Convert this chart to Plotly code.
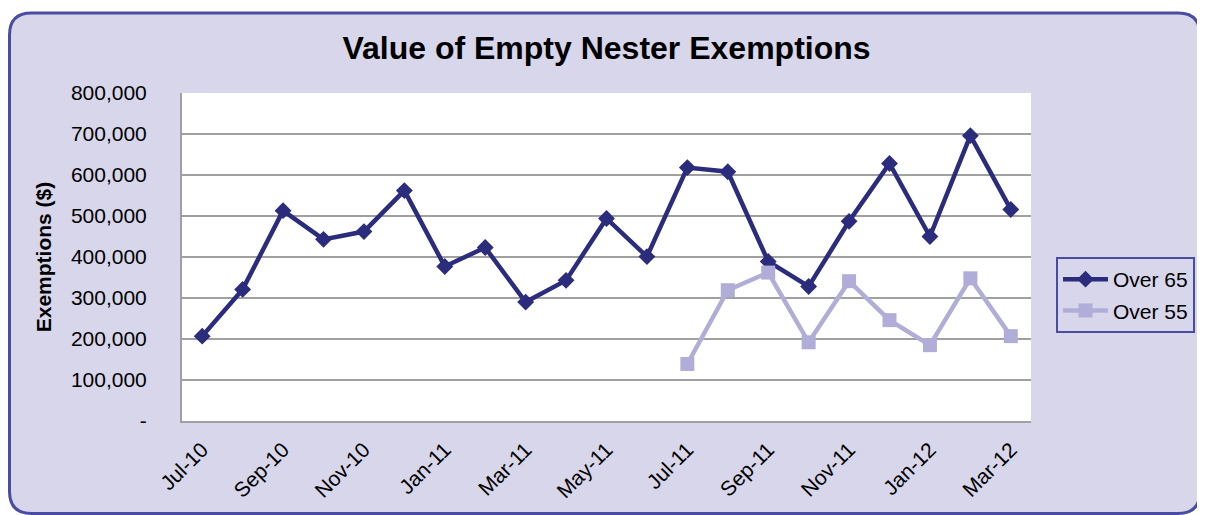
import plotly.graph_objects as go

months = ["Jul-10","Aug-10","Sep-10","Oct-10","Nov-10","Dec-10","Jan-11","Feb-11","Mar-11",
          "Apr-11","May-11","Jun-11","Jul-11","Aug-11","Sep-11","Oct-11","Nov-11","Dec-11",
          "Jan-12","Feb-12","Mar-12"]
over65 = [207000, 321000, 513000, 443000, 462000, 562000, 377000, 423000, 290000, 343000,
          494000, 401000, 618000, 608000, 389000, 328000, 487000, 628000, 450000, 696000, 516000]
over55_months = ["Jul-11","Aug-11","Sep-11","Oct-11","Nov-11","Dec-11","Jan-12","Feb-12","Mar-12"]
over55 = [139000, 319000, 362000, 192000, 341000, 246000, 185000, 348000, 207000]

y_tickvals = [0, 100000, 200000, 300000, 400000, 500000, 600000, 700000, 800000]
y_ticktext = ["-", "100,000", "200,000", "300,000", "400,000", "500,000", "600,000", "700,000", "800,000"]
x_tickvals = months[::2]

# page body has an 8px margin, so the figure is drawn 8px smaller and offset
OFF = 8
W, H = 1205 - OFF, 515 - OFF
L, R, T, B = 182 - OFF, 1031 - OFF, 93 - OFF, 421 - OFF

def px(x):
    return (x - L) / (R - L)

def py(y):
    return (B - y) / (B - T)

FONT = "Liberation Sans, Arial, sans-serif"
NAVY = "#2B2C7C"
LILAC = "#B0AED8"
PANEL = "#D7D6EA"
BORDER = "#4A4CA4"

fig = go.Figure()
fig.add_trace(go.Scatter(
    x=months, y=over65, name="Over 65", mode="lines+markers", legendgroup="a",
    line=dict(color=NAVY, width=4.5),
    marker=dict(symbol="diamond", size=13, color=NAVY),
))
fig.add_trace(go.Scatter(
    x=over55_months, y=over55, name="Over 55", mode="lines+markers", legendgroup="b",
    line=dict(color=LILAC, width=4.5),
    marker=dict(symbol="square", size=14, color=LILAC),
))

# rounded lavender panel (figure pixel coords)
x0, x1, y0, y1, r = 1.5, 1192, 5, 505.5, 22
path = (f"M {px(x0+r)},{py(y0)} L {px(x1-r)},{py(y0)} "
        f"Q {px(x1)},{py(y0)} {px(x1)},{py(y0+r)} "
        f"L {px(x1)},{py(y1-r)} Q {px(x1)},{py(y1)} {px(x1-r)},{py(y1)} "
        f"L {px(x0+r)},{py(y1)} Q {px(x0)},{py(y1)} {px(x0)},{py(y1-r)} "
        f"L {px(x0)},{py(y0+r)} Q {px(x0)},{py(y0)} {px(x0+r)},{py(y0)} Z")
fig.add_shape(type="path", path=path, xref="paper", yref="paper", layer="below",
              fillcolor=PANEL, line=dict(color=BORDER, width=3))
fig.add_shape(type="rect", xref="paper", yref="paper", x0=0, x1=1, y0=0, y1=1,
              layer="below", fillcolor="white", line=dict(width=0))

fig.update_layout(
    width=W, height=H,
    margin=dict(l=L, r=W - R, t=T, b=H - B, autoexpand=False),
    paper_bgcolor="white",
    plot_bgcolor="rgba(0,0,0,0)",
    font=dict(family=FONT, color="black", size=21),
    title=dict(text="<b>Value of Empty Nester Exemptions</b>", x=0.5, xanchor="center",
               y=1 - 40 / H, yanchor="middle",
               font=dict(size=32, family=FONT, color="black")),
    xaxis=dict(
        type="category", categoryarray=months, categoryorder="array",
        tickmode="array", tickvals=x_tickvals, ticktext=x_tickvals,
        tickangle=-45, showgrid=False, showline=True, linecolor="#A0A0A0", linewidth=2,
        ticks="", tickfont=dict(size=21), range=[-0.5, len(months) - 0.5],
        ticklabelstandoff=6, automargin=False,
    ),
    yaxis=dict(
        range=[0, 800000], tickmode="array", tickvals=y_tickvals, ticktext=y_ticktext,
        showgrid=True, gridcolor="#A0A0A0", gridwidth=2,
        showline=True, linecolor="#A0A0A0", linewidth=2,
        zeroline=False, ticks="", ticklabelstandoff=29, tickfont=dict(size=21),
        title=dict(text="<b>Exemptions ($)</b>", font=dict(size=21), standoff=14),
        automargin=False,
    ),
    legend=dict(
        x=px(1056 - OFF), y=py(257 - OFF), xanchor="left", yanchor="top",
        bgcolor=PANEL, bordercolor=BORDER, borderwidth=2,
        font=dict(size=21), itemwidth=45, tracegroupgap=1,
    ),
)

fig.write_html("out.html")
